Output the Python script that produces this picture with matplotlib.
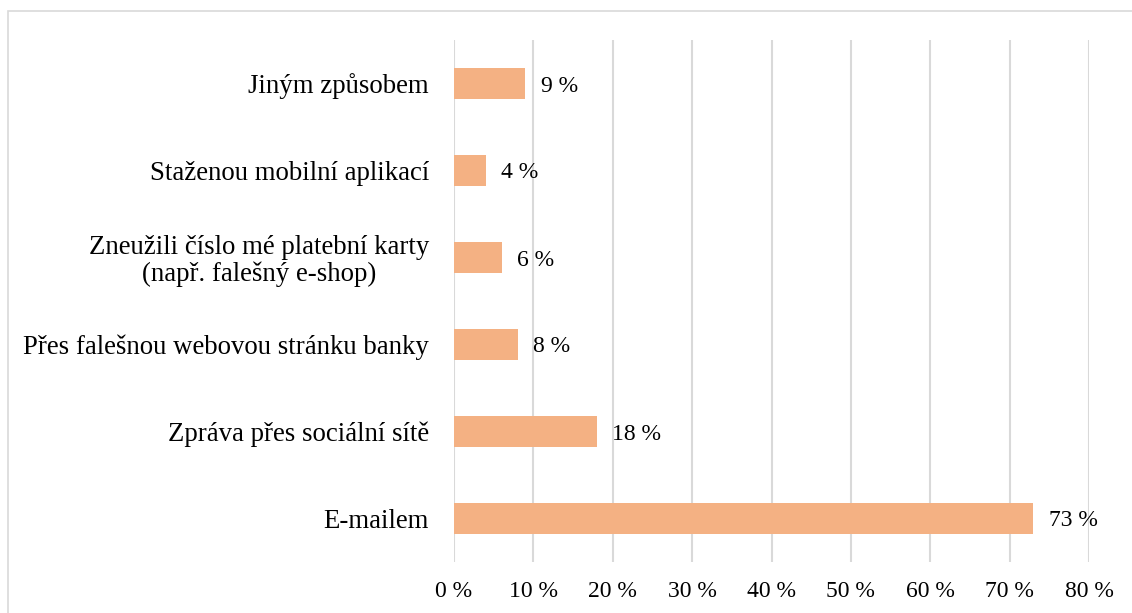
import matplotlib
matplotlib.use("Agg")
import matplotlib.pyplot as plt
from matplotlib.patches import Rectangle

categories = [
    "E-mailem",
    "Zpráva přes sociální sítě",
    "Přes falešnou webovou stránku banky",
    "Zneužili číslo mé platební karty\n(např. falešný e-shop)",
    "Staženou mobilní aplikací",
    "Jiným způsobem",
]
values = [73, 18, 8, 6, 4, 9]
xticks = [0, 10, 20, 30, 40, 50, 60, 70, 80]
xtick_labels = [f"{v} %" for v in xticks]

plt.rcParams["font.family"] = ["Liberation Serif", "DejaVu Serif"]
W, H = 1132, 613
fig = plt.figure(figsize=(W / 100, H / 100), dpi=100)
ax = fig.add_axes([454 / W, 51 / H, (1089 - 454) / W, (573 - 51) / H])

# outer chart frame
fig.patches.append(Rectangle((8 / W, -0.1), 1.2, (H - 11) / H + 0.1, transform=fig.transFigure,
                             fill=False, edgecolor="#D9D9D9", linewidth=1.2, zorder=0))

y = list(range(len(categories)))
ax.barh(y, values, height=0.345, color="#F4B183", zorder=3)
for yi, v in zip(y, values):
    ax.text(v + 1.9, yi, f"{v} %", va="center_baseline", ha="left", fontsize=17, color="#000000")

ax.set_xlim(0, 80)
ax.set_ylim(-0.5, len(categories) - 0.5)
ax.set_xticks(xticks)
ax.set_xticklabels(xtick_labels, fontsize=17)
ax.set_yticks(y)
ax.set_yticklabels(categories, fontsize=19.3, multialignment="center", linespacing=1.05)
ax.tick_params(axis="both", length=0)
ax.tick_params(axis="x", pad=14)
ax.tick_params(axis="y", pad=18)
ax.grid(axis="x", color="#D9D9D9", linewidth=1.5, zorder=0)
for s in ax.spines.values():
    s.set_visible(False)

fig.savefig("out.png", dpi=100)
